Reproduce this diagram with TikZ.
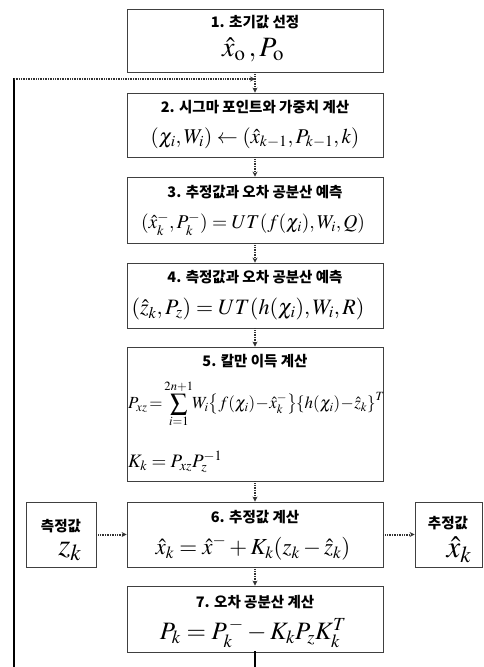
\documentclass[tikz,border=0pt]{standalone}
\usepackage{mathptmx}
\usepackage[no-math]{fontspec}
\newfontfamily\kr{Noto Sans CJK KR}
\usetikzlibrary{arrows.meta}
\tikzset{
  box/.style={draw=black!75, line width=0.8pt, minimum width=256pt, inner sep=0pt},
  sidebox/.style={draw=black!75, line width=0.8pt, inner sep=0pt},
  ttl/.style={font=\kr\bfseries\fontsize{14.5}{16}\selectfont, inner sep=0pt},
  eq/.style={font=\fontsize{21}{24}\selectfont, inner sep=0pt},
  conn/.style={draw=black!80, line width=2pt, dash pattern=on 1pt off 0.7pt, -{Stealth[length=5pt,width=5pt]}},
  loopline/.style={draw=black, line width=2pt, line cap=rect},
}
\begin{document}
\begin{tikzpicture}[x=1pt,y=-1pt]
\useasboundingbox (0,0) rectangle (483,667);
% boxes
\node[box, minimum height=63pt] (b1) at (255,40.5) {};
\node[box, minimum height=64pt] (b2) at (255,125) {};
\node[box, minimum height=66pt] (b3) at (255,210) {};
\node[box, minimum height=65pt] (b4) at (255,295.5) {};
\node[box, minimum height=134pt] (b5) at (255,414) {};
\node[box, minimum height=65pt] (b6) at (255,534.5) {};
\node[box, minimum height=66pt] (b7) at (255,619) {};
\node[sidebox, minimum width=70pt, minimum height=65pt] (bl) at (61,534.5) {};
\node[sidebox, minimum width=67pt, minimum height=65pt] (br) at (448.5,534.5) {};
% texts
\node[ttl] (t1) at (255,22) {1. 초기값 선정};
\node[eq, font=\fontsize{28}{30}\selectfont] (e1) at (253,50) {$\hat{x}_{\mathrm{o}}\,,P_{\mathrm{o}}$};
\node[ttl] (t2) at (255,107) {2. 시그마 포인트와 가중치 계산};
\node[eq] (e2) at (255,138) {$(\chi_i,W_i)\leftarrow(\hat{x}_{k-1},P_{k-1},k)$};
\node[ttl] (t3) at (255,192) {3. 추정값과 오차 공분산 예측};
\node[eq, font=\fontsize{19.5}{22}\selectfont] (e3) at (253,224) {$(\hat{x}_k^-,P_k^-)=UT(f(\chi_i),W_i,Q)$};
\node[ttl] (t4) at (255,277) {4. 측정값과 오차 공분산 예측};
\node[eq, font=\fontsize{22}{24}\selectfont] (e4) at (248,309) {$(\hat{z}_k,P_z)=UT(h(\chi_i),W_i,R)$};
\node[ttl] (t5) at (255,361) {5. 칼만 이득 계산};
\node[eq, anchor=west, font=\fontsize{17}{20}\selectfont] (e5) at (128,404) {$P_{xz}\mkern-2mu=\mkern-2mu\displaystyle\sum_{i=1}^{2n+1}\mkern-3mu W_i\mkern-2mu\left\{f(\chi_i)\mkern-2mu-\mkern-2mu\hat{x}_k^-\right\}\mkern-3mu\left\{h(\chi_i)\mkern-2mu-\mkern-2mu\hat{z}_k\right\}^T$};
\node[eq, anchor=west, font=\fontsize{19}{22}\selectfont] (e5b) at (128,462) {$K_k=P_{xz}P_z^{-1}$};
\node[ttl] (t6) at (255,517) {6. 추정값 계산};
\node[eq, font=\fontsize{23}{26}\selectfont] (e6) at (253,548) {$\hat{x}_k=\hat{x}^-+K_k(z_k-\hat{z}_k)$};
\node[ttl] (t7) at (255,602) {7. 오차 공분산 계산};
\node[eq, font=\fontsize{25}{28}\selectfont] (e7) at (253,633) {$P_k=P_k^{\,-}-K_kP_zK_k^T$};
\node[ttl] (tl) at (61,526) {측정값};
\node[eq, font=\fontsize{31}{34}\selectfont] (el) at (70,551) {$z_k$};
\node[ttl] (tr) at (448,523) {추정값};
\node[eq, font=\fontsize{31}{34}\selectfont] (er) at (459,550) {$\hat{x}_k$};
% connectors
\draw[conn] (b1.south) -- (b2.north);
\draw[conn] (b2.south) -- (b3.north);
\draw[conn] (b3.south) -- (b4.north);
\draw[conn] (b4.south) -- (b5.north);
\draw[conn] (b5.south) -- (b6.north);
\draw[conn] (b6.south) -- (b7.north);
\draw[conn] (bl.east) -- (b6.west);
\draw[conn] (b6.east) -- (br.west);
% feedback loop
\coordinate (lb) at (14,672);
\coordinate (lt) at (14,79);
\coordinate (lj) at (255,79);
\draw[loopline] (b7.south) |- (lb) -- (lt);
\draw[conn] (lt) -- (lj);
\end{tikzpicture}
\end{document}
